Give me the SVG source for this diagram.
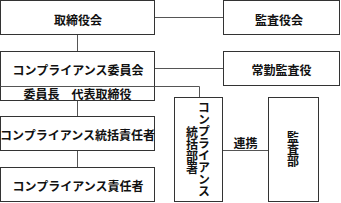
<svg xmlns="http://www.w3.org/2000/svg" width="341" height="203" viewBox="0 0 341 203">
<style>
.box{fill:#fff;stroke:#333;stroke-width:1}
.ln{fill:none;stroke:#555;stroke-width:1}
.t{font-family:"Noto Sans CJK JP","Noto Sans CJK SC",sans-serif;font-size:12px;font-weight:bold;fill:#111;text-anchor:middle;dominant-baseline:central}
.v{writing-mode:vertical-rl;text-orientation:upright}
</style>
<rect width="341" height="203" fill="#fff"/>
<g id="connectors">
<line class="ln" x1="155" y1="17.5" x2="223" y2="17.5"/>
<line class="ln" x1="77.5" y1="35" x2="77.5" y2="51"/>
<line class="ln" x1="155" y1="68.5" x2="223" y2="68.5"/>
<polyline class="ln" points="155,86.5 199.5,86.5 199.5,97.5"/>
<line class="ln" x1="77.5" y1="101" x2="77.5" y2="116"/>
<line class="ln" x1="77.5" y1="151" x2="77.5" y2="167"/>
<line class="ln" x1="223" y1="150.5" x2="268" y2="150.5"/>
<text class="t" x="245.5" y="142">連携</text>
</g>
<g id="torishimariyakukai">
<rect class="box" x="0.5" y="0.5" width="154" height="34"/>
<text class="t" x="78" y="19">取締役会</text>
</g>
<g id="kansayakukai">
<rect class="box" x="223.5" y="0.5" width="116" height="34"/>
<text class="t" x="279" y="19">監査役会</text>
</g>
<g id="compliance-iinkai">
<rect class="box" x="0.5" y="51.5" width="154" height="49"/>
<line class="ln" x1="0.5" y1="86.5" x2="154.5" y2="86.5"/>
<text class="t" x="78" y="69.5">コンプライアンス委員会</text>
<text class="t" x="77.5" y="93.5">委員長　代表取締役</text>
</g>
<g id="joukin-kansayaku">
<rect class="box" x="223.5" y="51.5" width="116" height="34"/>
<text class="t" x="281.5" y="69.5">常勤監査役</text>
</g>
<g id="toukatsu-sekininsha">
<rect class="box" x="0.5" y="116.5" width="154" height="34"/>
<text class="t" x="77.5" y="134.5">コンプライアンス統括責任者</text>
</g>
<g id="sekininsha">
<rect class="box" x="0.5" y="167.5" width="154" height="34"/>
<text class="t" x="78" y="185.5">コンプライアンス責任者</text>
</g>
<g id="toukatsu-busho">
<rect class="box" x="174.5" y="97.5" width="48" height="104"/>
<text class="t v" x="204" y="149">コンプライアンス</text>
<text class="t v" x="192" y="150">統括部署</text>
</g>
<g id="kansabu">
<rect class="box" x="268.5" y="97.5" width="50" height="104"/>
<text class="t v" x="293" y="149.5">監査部</text>
</g>
</svg>
